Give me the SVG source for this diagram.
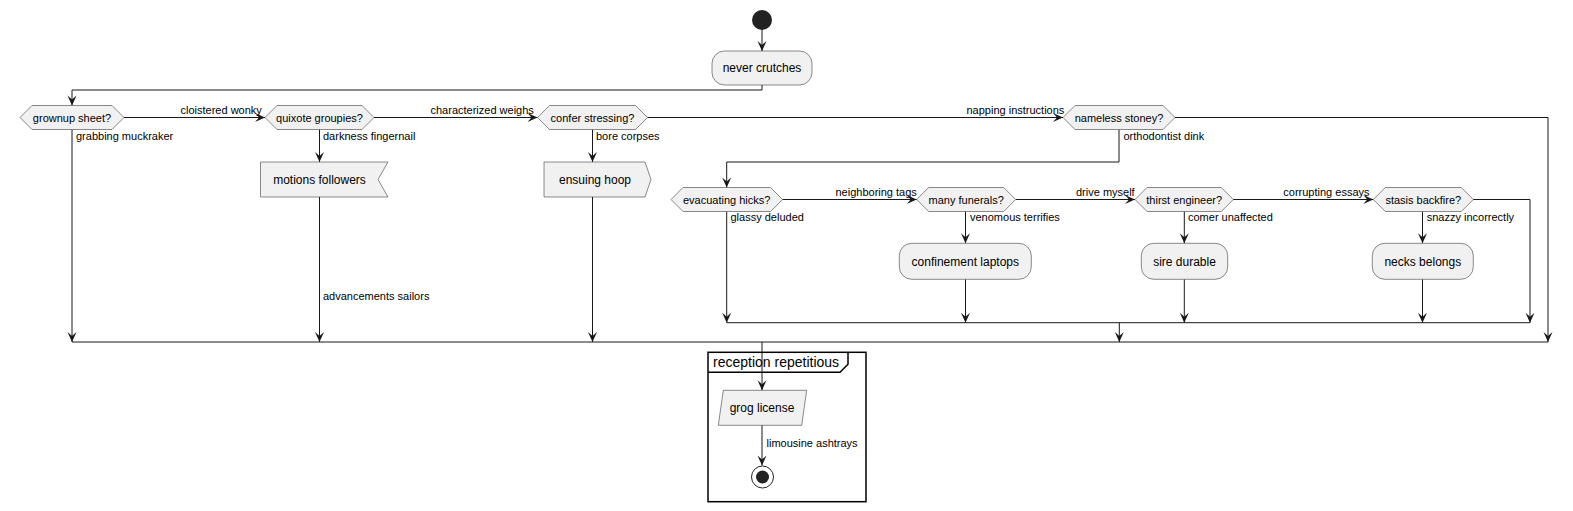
<svg xmlns="http://www.w3.org/2000/svg" width="1573" height="511" viewBox="0 0 1573 511">
<style>
.node{fill:#F1F1F1;stroke:#181818;stroke-width:0.5}
.t12{font-family:"Liberation Sans",Arial,sans-serif;font-size:12px;fill:#000;text-anchor:middle}
.t11{font-family:"Liberation Sans",Arial,sans-serif;font-size:11px;fill:#000;text-anchor:middle}
.lbl{font-family:"Liberation Sans",Arial,sans-serif;font-size:11px;fill:#000}
.ln{fill:none;stroke:#181818;stroke-width:1}
.arr{fill:none;stroke:#181818;stroke-width:1;marker-end:url(#ah)}
</style>
<defs>
<marker id="ah" markerUnits="userSpaceOnUse" markerWidth="10" markerHeight="10" refX="10" refY="5" orient="auto" overflow="visible">
<path d="M0,0.5 L10,5 L0,9.5 L4,5 Z" fill="#181818"/>
</marker>
</defs>
<rect width="1573" height="511" fill="#FFFFFF"/>

<g id="partition">
<rect x="708" y="352.3" width="158" height="149.4" fill="none" stroke="#000" stroke-width="1.5"/>
<path d="M708,372.3 L840,372.3 L848,364.3 L848,352.3" fill="none" stroke="#000" stroke-width="1.5"/>
<text x="713" y="367" font-family="'Liberation Sans',Arial,sans-serif" font-size="14" fill="#000">reception repetitious</text>
</g>

<g id="connectors">
<path class="arr" d="M762,30 L762,51"/>
<path class="arr" d="M762,85 L762,90 L72,90 L72,105.5"/>
<path class="arr" d="M124,117.5 L265,117.5"/>
<path class="arr" d="M72,129.5 L72,342"/>
<path class="arr" d="M319.5,129.5 L319.5,162"/>
<path class="arr" d="M319.5,197 L319.5,342"/>
<path class="arr" d="M374,117.5 L537.5,117.5"/>
<path class="arr" d="M592.5,129.5 L592.5,162"/>
<path class="arr" d="M592.5,197 L592.5,342"/>
<path class="arr" d="M647.5,117.5 L1063,117.5"/>
<path class="arr" d="M1119,129.5 L1119,162 L726.7,162 L726.7,187.5"/>
<path class="arr" d="M1175,117.5 L1548,117.5 L1548,342"/>
<path class="arr" d="M726.7,211.5 L726.7,322.7"/>
<path class="arr" d="M782.5,199.5 L916.7,199.5"/>
<path class="arr" d="M965.5,211.5 L965.5,243.3"/>
<path class="arr" d="M965.5,279.3 L965.5,322.7"/>
<path class="arr" d="M1015.7,199.5 L1135,199.5"/>
<path class="arr" d="M1184.3,211.5 L1184.3,243.3"/>
<path class="arr" d="M1184.3,279.3 L1184.3,322.7"/>
<path class="arr" d="M1233.3,199.5 L1373.3,199.5"/>
<path class="arr" d="M1422.5,211.5 L1422.5,243.3"/>
<path class="arr" d="M1422.5,279.3 L1422.5,322.7"/>
<path class="arr" d="M1473.3,199.5 L1530,199.5 L1530,322.7"/>
<path class="ln" d="M726.7,322.7 L1530,322.7"/>
<path class="arr" d="M1119.3,322.7 L1119.3,342"/>
<path class="ln" d="M72,342 L1548,342"/>
<path class="arr" d="M762,342 L762,390.3"/>
<path class="arr" d="M762,425.3 L762,465.5"/>
<text class="lbl" x="180.5" y="114">cloistered wonky</text>
<text class="lbl" x="76" y="140">grabbing muckraker</text>
<text class="lbl" x="323" y="140">darkness fingernail</text>
<text class="lbl" x="323" y="300">advancements sailors</text>
<text class="lbl" x="430.5" y="114">characterized weighs</text>
<text class="lbl" x="596" y="140">bore corpses</text>
<text class="lbl" x="966.5" y="114">napping instructions</text>
<text class="lbl" x="1123.5" y="140">orthodontist dink</text>
<text class="lbl" x="730.5" y="221">glassy deluded</text>
<text class="lbl" x="835.5" y="196">neighboring tags</text>
<text class="lbl" x="970" y="221">venomous terrifies</text>
<text class="lbl" x="1076" y="196">drive myself</text>
<text class="lbl" x="1188" y="221">comer unaffected</text>
<text class="lbl" x="1283.3" y="196">corrupting essays</text>
<text class="lbl" x="1426.7" y="221">snazzy incorrectly</text>
<text class="lbl" x="766.5" y="447">limousine ashtrays</text>
</g>

<g id="start"><circle cx="762" cy="20" r="10" fill="#222222"/></g>

<g id="never-crutches">
<rect class="node" x="712" y="51" width="100" height="34" rx="12.5"/>
<text class="t12" x="762" y="72">never crutches</text>
</g>

<g id="grownup-sheet">
<polygon class="node" points="20,117.5 32,105.5 112,105.5 124,117.5 112,129.5 32,129.5"/>
<text class="t11" x="72" y="121.5">grownup sheet?</text>
</g>

<g id="quixote-groupies">
<polygon class="node" points="265,117.5 277,105.5 362,105.5 374,117.5 362,129.5 277,129.5"/>
<text class="t11" x="319.5" y="121.5">quixote groupies?</text>
</g>

<g id="motions-followers">
<polygon class="node" points="260.5,162 388,162 378,179.5 388,197 260.5,197"/>
<text class="t12" x="319.5" y="184">motions followers</text>
</g>

<g id="confer-stressing">
<polygon class="node" points="537.5,117.5 549.5,105.5 635.5,105.5 647.5,117.5 635.5,129.5 549.5,129.5"/>
<text class="t11" x="592.5" y="121.5">confer stressing?</text>
</g>

<g id="ensuing-hoop">
<polygon class="node" points="544,162 645,162 651,179.5 645,197 544,197"/>
<text class="t12" x="595" y="184">ensuing hoop</text>
</g>

<g id="nameless-stoney">
<polygon class="node" points="1063,117.5 1075,105.5 1163,105.5 1175,117.5 1163,129.5 1075,129.5"/>
<text class="t11" x="1119" y="121.5">nameless stoney?</text>
</g>

<g id="evacuating-hicks">
<polygon class="node" points="671,199.5 683,187.5 770.5,187.5 782.5,199.5 770.5,211.5 683,211.5"/>
<text class="t11" x="726.7" y="203.5">evacuating hicks?</text>
</g>

<g id="many-funerals">
<polygon class="node" points="916.7,199.5 928.7,187.5 1003.7,187.5 1015.7,199.5 1003.7,211.5 928.7,211.5"/>
<text class="t11" x="966.2" y="203.5">many funerals?</text>
</g>

<g id="confinement-laptops">
<rect class="node" x="899.3" y="243.3" width="132" height="36" rx="12.5"/>
<text class="t12" x="965.3" y="265.5">confinement laptops</text>
</g>

<g id="thirst-engineer">
<polygon class="node" points="1135,199.5 1147,187.5 1221.3,187.5 1233.3,199.5 1221.3,211.5 1147,211.5"/>
<text class="t11" x="1184.2" y="203.5">thirst engineer?</text>
</g>

<g id="sire-durable">
<rect class="node" x="1141.3" y="243.3" width="86.4" height="36" rx="12.5"/>
<text class="t12" x="1184.5" y="265.5">sire durable</text>
</g>

<g id="stasis-backfire">
<polygon class="node" points="1373.3,199.5 1385.3,187.5 1461.3,187.5 1473.3,199.5 1461.3,211.5 1385.3,211.5"/>
<text class="t11" x="1423.3" y="203.5">stasis backfire?</text>
</g>

<g id="necks-belongs">
<rect class="node" x="1372.3" y="243.3" width="101" height="36" rx="12.5"/>
<text class="t12" x="1422.8" y="265.5">necks belongs</text>
</g>

<g id="grog-license">
<polygon class="node" points="723.3,390.3 806.7,390.3 801.7,425.3 718.3,425.3"/>
<text class="t12" x="762" y="412">grog license</text>
</g>

<g id="end">
<circle cx="762.5" cy="477" r="11" fill="none" stroke="#222222" stroke-width="1"/>
<circle cx="762.5" cy="477" r="6.5" fill="#222222"/>
</g>
</svg>
